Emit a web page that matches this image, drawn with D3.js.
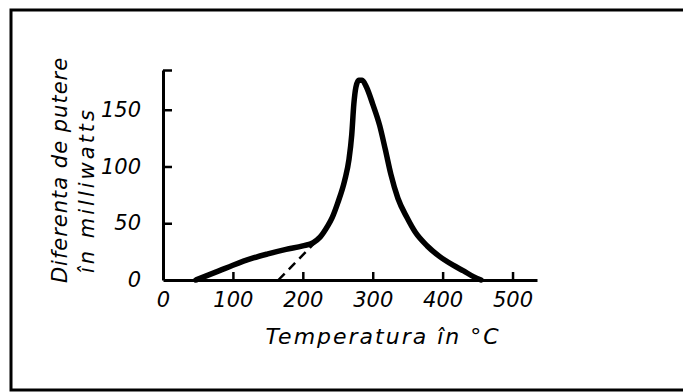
<!DOCTYPE html>
<html>
<head>
<meta charset="utf-8">
<script src="https://cdn.jsdelivr.net/npm/d3@7"></script>
<style>
  body { margin: 0; background: #fff; }
  text { font-family: "DejaVu Sans", sans-serif; font-style: italic; fill: #000; }
</style>
</head>
<body>
<div id="chart"></div>
<script>
// temperature (°C) and power difference (mW)
const temps = [47, 80, 100, 127, 150, 176, 200, 215, 225, 235, 242, 250, 260, 266, 270, 273, 276, 280, 285, 291, 300, 310, 318, 326, 336, 349, 361, 378, 395, 415, 430, 444, 455]
const power = [0, 8, 13, 19, 23, 27, 30, 33, 38, 47, 55, 68, 88, 106, 128, 155, 170, 176, 176, 170, 155, 136, 115, 93, 72, 55, 42, 30, 21, 13, 8, 3, 0]

// dashed baseline extrapolation
const dashTemps = [165, 219]
const dashPower = [0, 34]

const xTicks = [0, 100, 200, 300, 400, 500]
const yTicks = [0, 50, 100, 150, 185]
const yLabels = ["0", "50", "100", "150", ""]

const svgWidth = 683
const svgHeight = 392

let svg = d3.select("#chart")
    .append("svg")
    .attr("width", svgWidth)
    .attr("height", svgHeight)

// frame (right edge is cut off in the scan)
svg.append("rect")
    .attr("x", 11)
    .attr("y", 10)
    .attr("width", 700)
    .attr("height", 380)
    .attr("fill", "none")
    .attr("stroke", "#000")
    .attr("stroke-width", 3)

const x = d3.scaleLinear().domain([0, 535]).range([163, 537])
const y = d3.scaleLinear().domain([0, 185]).range([280, 70])

// x axis
let xAxis = svg.append("g")
    .attr("transform", `translate(0, ${y(0)})`)
    .call(d3.axisBottom(x).tickValues(xTicks).tickSizeInner(-8).tickSizeOuter(0).tickPadding(12))
xAxis.select(".domain").attr("stroke-width", 3)
xAxis.selectAll(".tick line").attr("stroke-width", 2.5)
xAxis.selectAll(".tick text").attr("font-size", 21).attr("font-family", "DejaVu Sans").attr("font-style", "italic")
xAxis.selectAll(".tick").filter(d => d === 0).select("line").remove()

// y axis
let yAxis = svg.append("g")
    .attr("transform", `translate(${x(0)}, 0)`)
    .call(d3.axisLeft(y).tickValues(yTicks).tickFormat((d, i) => yLabels[i]).tickSizeInner(-9).tickSizeOuter(0).tickPadding(22))
yAxis.select(".domain").attr("stroke-width", 3)
yAxis.selectAll(".tick line").attr("stroke-width", 2.5)
yAxis.selectAll(".tick text").attr("font-size", 21).attr("font-family", "DejaVu Sans").attr("font-style", "italic")
yAxis.selectAll(".tick").filter(d => d === 0).select("line").remove()

// axis titles
svg.append("text")
    .attr("x", 383)
    .attr("y", 344)
    .attr("text-anchor", "middle")
    .attr("font-size", 22)
    .attr("letter-spacing", 2)
    .text("Temperatura în °C")

let yTitle = svg.append("g")
    .attr("transform", "translate(67, 170) rotate(-90)")
yTitle.append("text")
    .attr("x", 0)
    .attr("y", 0)
    .attr("text-anchor", "middle")
    .attr("font-size", 21)
    .attr("letter-spacing", 1)
    .text("Diferenta de putere")
yTitle.append("text")
    .attr("x", -20)
    .attr("y", 27)
    .attr("text-anchor", "middle")
    .attr("font-size", 21)
    .attr("letter-spacing", 3)
    .text("în milliwatts")

// curve
const curveData = temps.map((t, i) => [t, power[i]])
const line = d3.line()
    .x(d => x(d[0]))
    .y(d => y(d[1]))
    .curve(d3.curveMonotoneX)

svg.append("path")
    .datum(curveData)
    .attr("d", line)
    .attr("fill", "none")
    .attr("stroke", "#000")
    .attr("stroke-width", 5.5)
    .attr("stroke-linecap", "round")
    .attr("stroke-linejoin", "round")

svg.append("path")
    .datum(dashTemps.map((t, i) => [t, dashPower[i]]))
    .attr("d", d3.line().x(d => x(d[0])).y(d => y(d[1])))
    .attr("fill", "none")
    .attr("stroke", "#000")
    .attr("stroke-width", 2.5)
    .attr("stroke-dasharray", "9,6")
</script>
</body>
</html>
